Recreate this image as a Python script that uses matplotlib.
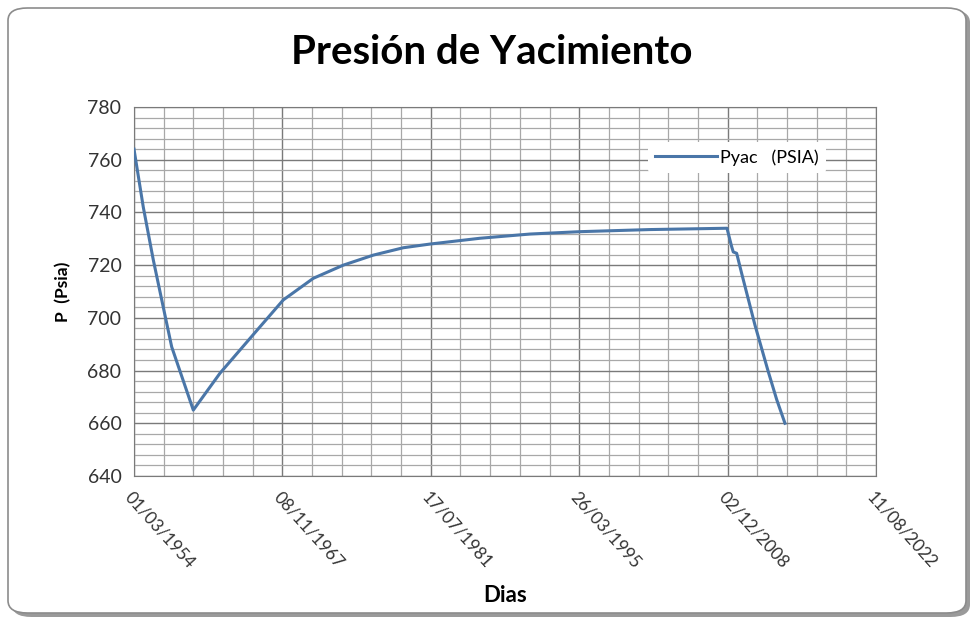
import pandas as pd
import numpy as np
import matplotlib.pyplot as plt
from matplotlib.patches import FancyBboxPatch
from matplotlib.ticker import MultipleLocator, FixedLocator

# Dias transcurridos desde 01/03/1954 para cada lectura
dias = [0, 313, 650, 987, 1270, 1998, 2897, 4245, 5030, 6041, 7052,
        8062, 9073, 9972, 11657, 13342, 15026, 17385, 19979, 20137, 20191,
        20305, 20473, 20921, 21370, 21654, 21933]
# Presion de yacimiento (psia)
pyac = [764, 742, 722, 704, 689, 665, 679, 696.6, 706.8, 715, 720,
        723.8, 726.6, 728, 730.2, 731.8, 732.7, 733.5, 734, 727, 725,
        724.5, 716.9, 697.3, 679.6, 669, 660]

# Ticks del eje x cada 5000 dias
ticks_dias = [0, 5000, 10000, 15000, 20000, 25000]
ticks_texto = ['01/03/1954', '08/11/1967', '17/07/1981', '26/03/1995',
               '02/12/2008', '11/08/2022']

plt.rcParams['font.family'] = ['Lato', 'DejaVu Sans']

fig = plt.figure(figsize=(9.75, 6.21), dpi=100)

# marco redondeado con sombra
sombra = FancyBboxPatch((12 / 975, 4 / 621), 958 / 975, 607 / 621,
                        boxstyle='round,pad=0,rounding_size=0.02',
                        transform=fig.transFigure, facecolor='#9a9a9a',
                        edgecolor='none', zorder=0)
marco = FancyBboxPatch((8 / 975, 8 / 621), 958 / 975, 605 / 621,
                       boxstyle='round,pad=0,rounding_size=0.02',
                       transform=fig.transFigure, facecolor='white',
                       edgecolor='#8c8c8c', linewidth=1.2, zorder=1)
fig.patches.extend([sombra, marco])

ax = fig.add_axes([134 / 975, 1 - 476 / 621, 742 / 975, 369 / 621])
ax.set_zorder(2)

ax.plot(dias, pyac, color='#4A76A8', linewidth=2.2, label='Pyac   (PSIA)',
        zorder=3)

ax.set_xlim(0, 25000)
ax.set_ylim(640, 780)
ax.xaxis.set_major_locator(FixedLocator(ticks_dias))
ax.xaxis.set_minor_locator(MultipleLocator(1000))
ax.yaxis.set_major_locator(MultipleLocator(20))
ax.yaxis.set_minor_locator(MultipleLocator(4))

ax.grid(which='major', color='#7a7a7a', linewidth=1.0)
ax.grid(which='minor', color='#a8a8a8', linewidth=0.9)
ax.set_axisbelow(True)

ax.set_xticklabels(ticks_texto, rotation=-48, ha='left', va='top',
                   rotation_mode='anchor', fontsize=12.5, color='#333333')
ax.tick_params(axis='x', which='both', length=0, pad=9)
ax.tick_params(axis='y', which='both', length=0, pad=9, labelsize=14,
               labelcolor='#333333')

for lado in ax.spines.values():
    lado.set_color('#7a7a7a')

ax.set_xlabel('Dias', fontsize=16, fontweight='bold', labelpad=10)
ax.set_ylabel('P  (Psia)', fontsize=12.5, fontweight='bold', labelpad=12)

fig.text(492 / 975, 1 - 53 / 621, 'Presión de Yacimiento', ha='center',
         va='center', fontsize=29, fontweight='bold')

leg = ax.legend(loc='upper right', bbox_to_anchor=(0.945, 0.93),
                frameon=True, fontsize=13, handlelength=3.4,
                handletextpad=0.2, borderpad=0.4)
leg.get_frame().set_facecolor('white')
leg.get_frame().set_edgecolor('none')
leg.get_frame().set_alpha(1)

fig.savefig('out.png', dpi=100)
